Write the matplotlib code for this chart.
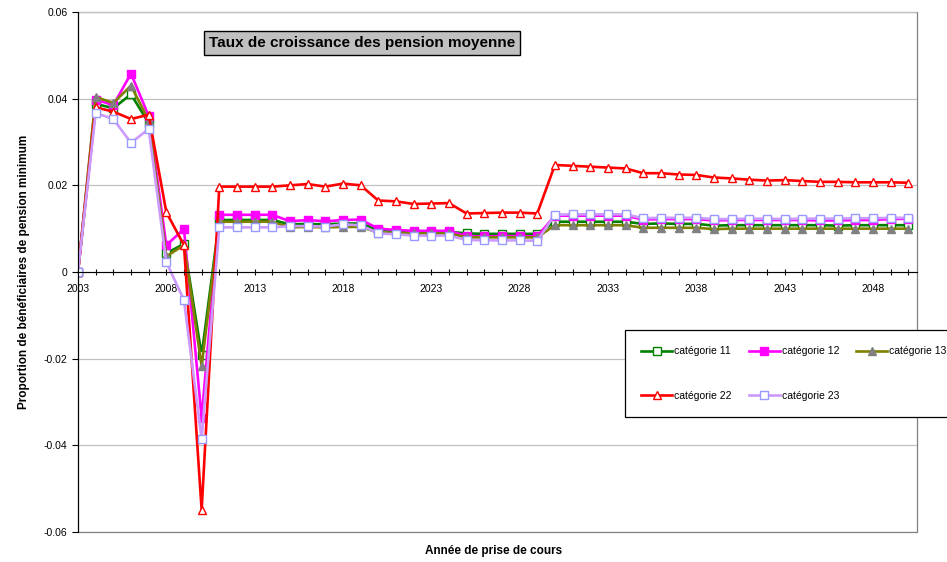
import matplotlib
matplotlib.use("Agg")
import matplotlib.pyplot as plt
from matplotlib.patches import Rectangle
from matplotlib.ticker import MultipleLocator, FixedLocator, FuncFormatter

plt.rcParams['font.family'] = ['Liberation Sans', 'DejaVu Sans']

years = list(range(2003, 2051))

cat11 = [0, 0.0388, 0.0378, 0.0410, 0.0344, 0.0043, 0.0065, -0.0192,
         0.0120, 0.0120, 0.0120, 0.0120, 0.0110, 0.0111, 0.0110, 0.0112, 0.0112,
         0.0097, 0.0095, 0.0093, 0.0093, 0.0093, 0.0089, 0.0088, 0.0088, 0.0088, 0.0088,
         0.0116, 0.0116, 0.0116, 0.0116, 0.0116, 0.0111, 0.0112, 0.0111, 0.0111,
         0.0107, 0.0108, 0.0108, 0.0108, 0.0108, 0.0108, 0.0108, 0.0107, 0.0108,
         0.0108, 0.0108, 0.0108]

cat12 = [0, 0.0398, 0.0385, 0.0458, 0.0360, 0.0062, 0.0099, -0.0337,
         0.0132, 0.0132, 0.0132, 0.0132, 0.0117, 0.0120, 0.0117, 0.0120, 0.0121,
         0.0100, 0.0097, 0.0095, 0.0095, 0.0095, 0.0083, 0.0082, 0.0083, 0.0083, 0.0082,
         0.0130, 0.0130, 0.0130, 0.0130, 0.0130, 0.0121, 0.0122, 0.0122, 0.0122,
         0.0119, 0.0120, 0.0120, 0.0120, 0.0120, 0.0120, 0.0119, 0.0119, 0.0120,
         0.0120, 0.0122, 0.0123]

cat13 = [0, 0.0404, 0.0390, 0.0430, 0.0350, 0.0036, 0.0062, -0.0217,
         0.0116, 0.0116, 0.0116, 0.0116, 0.0103, 0.0104, 0.0103, 0.0104, 0.0104,
         0.0091, 0.0090, 0.0089, 0.0089, 0.0089, 0.0080, 0.0080, 0.0080, 0.0080, 0.0080,
         0.0108, 0.0108, 0.0108, 0.0108, 0.0108, 0.0102, 0.0102, 0.0102, 0.0102,
         0.0099, 0.0100, 0.0100, 0.0100, 0.0100, 0.0100, 0.0100, 0.0100, 0.0100,
         0.0100, 0.0100, 0.0100]

cat22 = [0, 0.0380, 0.0370, 0.0353, 0.0363, 0.0138, 0.0062, -0.0549,
         0.0197, 0.0197, 0.0197, 0.0197, 0.0200, 0.0203, 0.0197, 0.0204, 0.0200,
         0.0165, 0.0163, 0.0157, 0.0158, 0.0159, 0.0135, 0.0136, 0.0137, 0.0137, 0.0135,
         0.0247, 0.0245, 0.0243, 0.0241, 0.0239, 0.0228, 0.0228, 0.0225, 0.0224,
         0.0218, 0.0216, 0.0213, 0.0211, 0.0212, 0.0210, 0.0208, 0.0208, 0.0207,
         0.0207, 0.0207, 0.0206]

cat23 = [0, 0.0367, 0.0353, 0.0298, 0.0330, 0.0023, -0.0065, -0.0385,
         0.0103, 0.0103, 0.0103, 0.0103, 0.0106, 0.0106, 0.0105, 0.0110, 0.0108,
         0.0089, 0.0087, 0.0084, 0.0084, 0.0084, 0.0074, 0.0073, 0.0073, 0.0073, 0.0072,
         0.0132, 0.0133, 0.0133, 0.0133, 0.0133, 0.0124, 0.0125, 0.0125, 0.0125,
         0.0122, 0.0122, 0.0123, 0.0123, 0.0122, 0.0123, 0.0123, 0.0123, 0.0124,
         0.0124, 0.0125, 0.0125]

series = [
    ("catégorie 11", cat11, dict(color="#008000", marker="s", mfc="white", mec="#008000")),
    ("catégorie 12", cat12, dict(color="#FF00FF", marker="s", mfc="#FF00FF", mec="#FF00FF")),
    ("catégorie 13", cat13, dict(color="#808000", marker="^", mfc="#808080", mec="#808080")),
    ("catégorie 22", cat22, dict(color="#FF0000", marker="^", mfc="white", mec="#FF0000")),
    ("catégorie 23", cat23, dict(color="#CC99FF", marker="s", mfc="white", mec="#9999FF")),
]

fig = plt.figure(figsize=(9.47, 5.62), dpi=100)
ax = fig.add_axes([78 / 947, 1 - 532 / 562, (917 - 78) / 947, (532 - 12) / 562])

handles = []
for label, vals, st in series:
    h, = ax.plot(years, vals, label=label, lw=1.9, ms=5.5, mew=1.0, **st)
    handles.append(h)

ax.set_xlim(2003, 2050.5)
ax.set_ylim(-0.06, 0.06)

# horizontal gridlines
ax.yaxis.set_major_locator(MultipleLocator(0.02))
ax.grid(axis='y', color='#C0C0C0', lw=0.9)
ax.set_axisbelow(True)

def yfmt(v, pos):
    if abs(v) < 1e-12:
        return "0"
    return f"{v:.2f}"
ax.yaxis.set_major_formatter(FuncFormatter(yfmt))

# category axis crossing at zero
ax.spines['bottom'].set_position(('data', 0))
ax.spines['bottom'].set_color('black')
ax.spines['left'].set_color('black')
ax.spines['top'].set_visible(False)
ax.spines['right'].set_visible(False)
ax.add_patch(Rectangle((0, 0), 1, 1, transform=ax.transAxes, fill=False,
                       edgecolor='#808080', lw=0.9, zorder=0.5, clip_on=False))

ax.xaxis.set_major_locator(FixedLocator(list(range(2003, 2051, 5))))
ax.xaxis.set_minor_locator(FixedLocator(years))
ax.tick_params(axis='x', which='both', direction='inout', length=5, width=0.8,
               labelsize=7.5, pad=6)
ax.tick_params(axis='y', which='major', direction='out', length=4, width=0.8,
               labelsize=7.5)

ax.set_ylabel("Proportion de bénéficiaires de pension minimum", fontsize=8.5,
              fontweight='bold', labelpad=10)
fig.text(494 / 947, 1 - 551 / 562, "Année de prise de cours", ha='center', va='center',
         fontsize=8.5, fontweight='bold')

fig.text(362 / 947, 1 - 43 / 562, "Taux de croissance des pension moyenne",
         ha='center', va='center', fontsize=11, fontweight='bold',
         bbox=dict(boxstyle='square,pad=0.35', facecolor='#C0C0C0', edgecolor='black', lw=1))

# legend filled row by row: 11, 12, 13 / 22, 23
order = [0, 3, 1, 4, 2]
leg = fig.legend([handles[i] for i in order], [series[i][0] for i in order],
                 loc='upper left', bbox_to_anchor=(625 / 947, 1 - 330 / 562), ncol=3,
                 fontsize=7.5, frameon=True, fancybox=False, edgecolor='black',
                 framealpha=1, borderaxespad=0, labelspacing=3.3, handlelength=3.0,
                 handletextpad=0.2, columnspacing=1.6, borderpad=1.55)
leg.get_frame().set_linewidth(0.9)

fig.savefig("out.png", dpi=100)
